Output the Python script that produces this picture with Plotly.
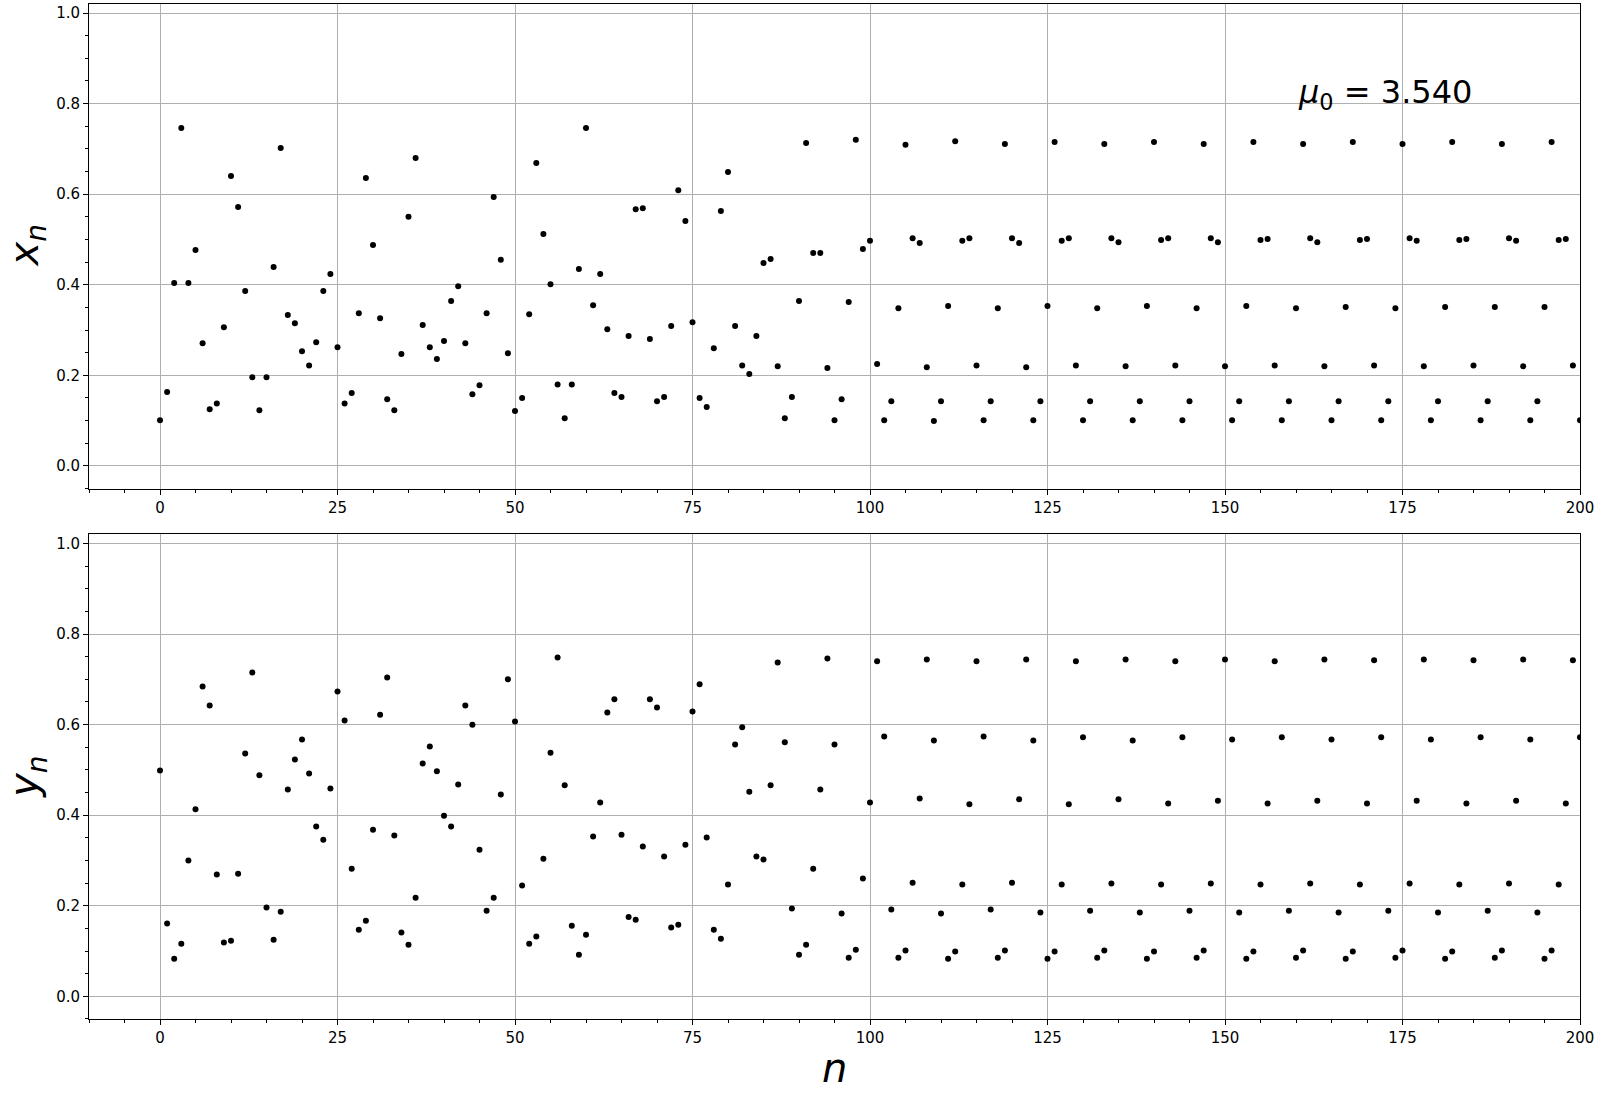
import plotly.graph_objects as go
from plotly.subplots import make_subplots

n_values = list(range(201))

x_values = [
    0.101, 0.163, 0.404, 0.746, 0.404, 0.477, 0.271, 0.125, 0.138, 0.306,
    0.640, 0.572, 0.386, 0.196, 0.123, 0.196, 0.439, 0.702, 0.333, 0.315,
    0.253, 0.222, 0.273, 0.386, 0.424, 0.262, 0.138, 0.161, 0.337, 0.636,
    0.488, 0.326, 0.147, 0.123, 0.247, 0.550, 0.680, 0.311, 0.262, 0.236,
    0.276, 0.364, 0.397, 0.271, 0.158, 0.178, 0.337, 0.594, 0.455, 0.249,
    0.121, 0.150, 0.335, 0.669, 0.512, 0.401, 0.180, 0.105, 0.180, 0.435,
    0.746, 0.355, 0.424, 0.302, 0.161, 0.152, 0.287, 0.567, 0.569, 0.280,
    0.143, 0.152, 0.309, 0.609, 0.541, 0.317, 0.150, 0.130, 0.260, 0.563,
    0.649, 0.309, 0.222, 0.203, 0.287, 0.448, 0.457, 0.220, 0.105, 0.152,
    0.364, 0.713, 0.470, 0.470, 0.216, 0.101, 0.147, 0.362, 0.720, 0.479,
    0.497, 0.225, 0.101, 0.143, 0.348, 0.709, 0.503, 0.492, 0.218, 0.099,
    0.143, 0.353, 0.717, 0.497, 0.503, 0.222, 0.101, 0.143, 0.348, 0.711,
    0.503, 0.492, 0.218, 0.101, 0.143, 0.353, 0.715, 0.497, 0.503, 0.222,
    0.101, 0.143, 0.348, 0.711, 0.503, 0.494, 0.220, 0.101, 0.143, 0.353,
    0.715, 0.499, 0.503, 0.222, 0.101, 0.143, 0.348, 0.711, 0.503, 0.494,
    0.220, 0.101, 0.143, 0.353, 0.715, 0.499, 0.501, 0.222, 0.101, 0.143,
    0.348, 0.711, 0.503, 0.494, 0.220, 0.101, 0.143, 0.351, 0.715, 0.499,
    0.501, 0.222, 0.101, 0.143, 0.348, 0.711, 0.503, 0.497, 0.220, 0.101,
    0.143, 0.351, 0.715, 0.499, 0.501, 0.222, 0.101, 0.143, 0.351, 0.711,
    0.503, 0.497, 0.220, 0.101, 0.143, 0.351, 0.715, 0.499, 0.501, 0.222,
    0.101,
]

y_values = [
    0.499, 0.161, 0.083, 0.116, 0.300, 0.413, 0.684, 0.642, 0.269, 0.119,
    0.123, 0.271, 0.536, 0.715, 0.488, 0.196, 0.125, 0.187, 0.457, 0.523,
    0.567, 0.492, 0.375, 0.346, 0.459, 0.673, 0.609, 0.282, 0.147, 0.167,
    0.368, 0.622, 0.704, 0.355, 0.141, 0.114, 0.218, 0.514, 0.552, 0.497,
    0.399, 0.375, 0.468, 0.642, 0.600, 0.324, 0.189, 0.218, 0.446, 0.700,
    0.607, 0.245, 0.116, 0.132, 0.304, 0.538, 0.748, 0.466, 0.156, 0.092,
    0.136, 0.353, 0.428, 0.627, 0.656, 0.357, 0.175, 0.169, 0.331, 0.656,
    0.638, 0.309, 0.152, 0.158, 0.335, 0.629, 0.689, 0.351, 0.147, 0.127,
    0.247, 0.556, 0.594, 0.452, 0.309, 0.302, 0.466, 0.737, 0.561, 0.194,
    0.092, 0.114, 0.282, 0.457, 0.746, 0.556, 0.183, 0.085, 0.103, 0.260,
    0.428, 0.740, 0.574, 0.192, 0.085, 0.101, 0.251, 0.437, 0.744, 0.565,
    0.183, 0.083, 0.099, 0.247, 0.424, 0.740, 0.574, 0.192, 0.085, 0.101,
    0.251, 0.435, 0.744, 0.565, 0.185, 0.083, 0.099, 0.247, 0.424, 0.740,
    0.572, 0.189, 0.085, 0.101, 0.249, 0.435, 0.744, 0.565, 0.185, 0.083,
    0.099, 0.247, 0.426, 0.740, 0.572, 0.189, 0.085, 0.101, 0.249, 0.432,
    0.744, 0.567, 0.185, 0.083, 0.099, 0.247, 0.426, 0.740, 0.572, 0.189,
    0.085, 0.101, 0.249, 0.432, 0.744, 0.567, 0.185, 0.083, 0.099, 0.247,
    0.426, 0.742, 0.572, 0.189, 0.085, 0.101, 0.249, 0.432, 0.744, 0.567,
    0.185, 0.083, 0.099, 0.247, 0.426, 0.742, 0.572, 0.189, 0.085, 0.101,
    0.249, 0.432, 0.744, 0.567, 0.185, 0.083, 0.101, 0.247, 0.426, 0.742,
    0.572,
]

x_tick_vals = [0, 25, 50, 75, 100, 125, 150, 175, 200]
y_tick_vals = [0.0, 0.2, 0.4, 0.6, 0.8, 1.0]
y_tick_text = ["0.0", "0.2", "0.4", "0.6", "0.8", "1.0"]
annotation_text = "<i>μ</i><sub>0</sub> = 3.540"

fig = make_subplots(rows=2, cols=1, vertical_spacing=0.0452)

fig.add_trace(go.Scatter(x=n_values, y=x_values, mode="markers",
                         marker=dict(color="black", size=6), showlegend=False),
              row=1, col=1)
fig.add_trace(go.Scatter(x=n_values, y=y_values, mode="markers",
                         marker=dict(color="black", size=6), showlegend=False),
              row=2, col=1)

font_family = "DejaVu Sans"
axis_common = dict(
    showline=True, linecolor="black", linewidth=1, mirror=True,
    showgrid=True, gridcolor="#b0b0b0", gridwidth=1,
    zeroline=False, ticks="outside", ticklen=5, tickwidth=1, tickcolor="black",
    tickfont=dict(family=font_family, size=15, color="black"),
    automargin=False,
)

for r in (1, 2):
    fig.update_xaxes(range=[-10, 200], tickvals=x_tick_vals,
                     minor=dict(dtick=5, tick0=0, ticks="outside", ticklen=3,
                                tickcolor="black", showgrid=False),
                     row=r, col=1, **axis_common)
    fig.update_yaxes(range=[-0.05, 1.02], tickvals=y_tick_vals, ticktext=y_tick_text,
                     minor=dict(dtick=0.05, tick0=0, ticks="outside", ticklen=3,
                                tickcolor="black", showgrid=False),
                     row=r, col=1, **axis_common)

title_font = dict(family=font_family, size=40, color="black")

# axis titles placed as annotations for exact positioning
fig.add_annotation(x=-0.0415, y=0.7613, xref="paper", yref="paper",
                   text="<i>x</i><sub><i>n</i></sub>", textangle=-90,
                   showarrow=False, xanchor="center", yanchor="middle", font=title_font)
fig.add_annotation(x=-0.0415, y=0.2387, xref="paper", yref="paper",
                   text="<i>y</i><sub><i>n</i></sub>", textangle=-90,
                   showarrow=False, xanchor="center", yanchor="middle", font=title_font)
fig.add_annotation(x=0.5, y=-0.048, xref="paper", yref="paper",
                   text="<i>n</i>", showarrow=False, xanchor="center", yanchor="middle",
                   font=title_font)

fig.add_annotation(x=160, y=0.77, xref="x", yref="y", text=annotation_text,
                   showarrow=False, xanchor="left", yanchor="bottom",
                   font=dict(family=font_family, size=32, color="black"))

fig.update_layout(
    width=1600, height=1100,
    margin=dict(l=89, r=20, t=4, b=81),
    paper_bgcolor="white", plot_bgcolor="white",
    font=dict(family=font_family, color="black"),
)

fig.write_html("out.html",
               config={"displayModeBar": False},
               post_script="document.body.style.margin='0';"
                           "document.body.style.overflow='hidden';")
